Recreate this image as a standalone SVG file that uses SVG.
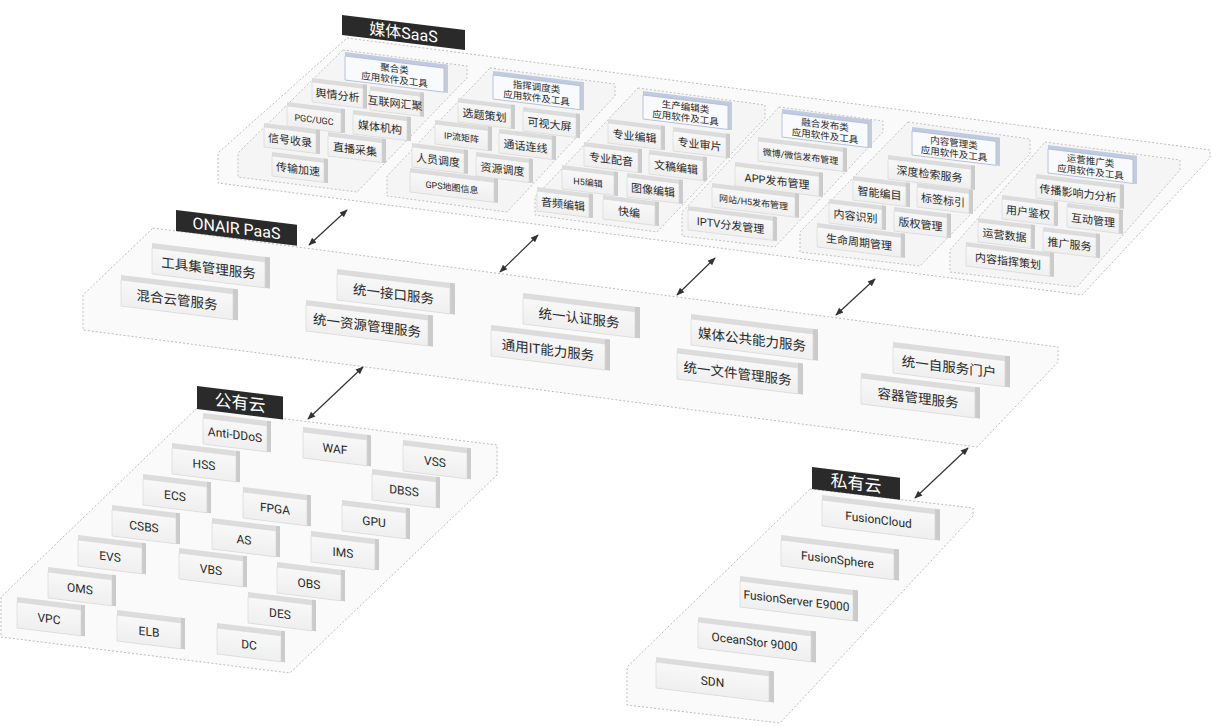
<svg xmlns="http://www.w3.org/2000/svg" width="1212" height="726" viewBox="0 0 1212 726">
<defs>
<linearGradient id="gf" x1="0" y1="0" x2="0" y2="1"><stop offset="0" stop-color="#f8f8f8"/><stop offset="1" stop-color="#efefef"/></linearGradient>
<marker id="ah" viewBox="0 0 10 10" refX="9" refY="5" markerWidth="8" markerHeight="8" markerUnits="userSpaceOnUse" orient="auto-start-reverse"><path d="M0,1 L10,5 L0,9 z" fill="#333"/></marker>
<style>
.pl{fill:#fafafa;stroke:#bdbdbd;stroke-width:1;stroke-dasharray:2 2}
.sp{fill:#f5f5f5;stroke:#c2c2c2;stroke-width:1;stroke-dasharray:2 2}
.bt{fill:#dcdcdc}
.bs{fill:#cbcbcb}
.bf{fill:url(#gf);stroke:#d4d4d4;stroke-width:0.6}
.ht{fill:#c0cae0}
.hs{fill:#c3cbdc}
.hf{fill:#f9fafd;stroke:#b2bed8;stroke-width:0.9}
.t{font-family:Roboto,"Noto Sans CJK SC",sans-serif;fill:#2a2a2a;text-anchor:middle}
.s{font-size:11px}
.xs{font-size:9px}
.m{font-size:13.5px}
.e{font-size:12px}
.h{font-size:9.5px}
.lb{fill:#2a2a2a}
.lt{font-family:Roboto,"Noto Sans CJK SC",sans-serif;fill:#fff;text-anchor:middle}
.cn{stroke:#333;stroke-width:1.2;fill:none;marker-start:url(#ah);marker-end:url(#ah)}
</style>
</defs>

<!-- planes -->
<g id="planes">
<polygon class="pl" points="347,38 1210,150 1210,158 1082,295 218,183 218,153"/>
<polygon class="pl" points="153,228 1058,347 1058,362 977,447 83,330 83,295"/>
<polygon class="pl" points="197,408 497,445 497,475 290,673 1,637 1,597"/>
<polygon class="pl" points="810,489 973,508 973,516 780,723 627,705 627,667"/>
</g>
<g id="subpanels">
<polygon class="sp" points="343,50 467,66 467,78 357,192 238,177 238,153"/>
<polygon class="sp" points="490,68 615,84 615,96 507,212 387,196 387,176"/>
<polygon class="sp" points="638,88 765,105 765,118 657,232 535,215 535,197"/>
<polygon class="sp" points="779,107 883,121 883,132 775,247 682,236 682,212"/>
<polygon class="sp" points="908,122 1030,139 1030,154 920,266 800,252 800,232"/>
<polygon class="sp" points="1045,142 1180,160 1180,170 1077,287 950,272 950,250"/>
</g>

<!-- layer labels -->
<g id="label-saas" transform="translate(342,15) skewY(7)"><rect class="lb" width="123" height="20"/><text class="lt" x="61.5" y="16" font-size="16">媒体SaaS</text></g>
<g id="label-paas" transform="translate(176,210) skewY(7)"><rect class="lb" width="121" height="21"/><text class="lt" x="60.5" y="16.5" font-size="16">ONAIR PaaS</text></g>
<g id="label-public" transform="translate(197,386) skewY(7)"><rect class="lb" width="86" height="23"/><text class="lt" x="43" y="17.5" font-size="17">公有云</text></g>
<g id="label-private" transform="translate(812,467) skewY(7)"><rect class="lb" width="88" height="22"/><text class="lt" x="44" y="17" font-size="17">私有云</text></g>

<!-- SaaS headers -->
<g id="h1" transform="translate(345,52) skewY(7)"><rect class="ht" width="103" height="28"/><rect class="hs" x="99" width="4" height="28"/><rect class="hf" y="4" width="99" height="24"/><text class="t h" x="49.5" y="14">聚合类</text><text class="t h" x="49.5" y="25">应用软件及工具</text></g>
<g id="h2" transform="translate(493,71) skewY(7)"><rect class="ht" width="91" height="28"/><rect class="hs" x="87" width="4" height="28"/><rect class="hf" y="4" width="87" height="24"/><text class="t h" x="43.5" y="14">指挥调度类</text><text class="t h" x="43.5" y="25">应用软件及工具</text></g>
<g id="h3" transform="translate(643,91) skewY(7)"><rect class="ht" width="89" height="28"/><rect class="hs" x="85" width="4" height="28"/><rect class="hf" y="4" width="85" height="24"/><text class="t h" x="42.5" y="14">生产编辑类</text><text class="t h" x="42.5" y="25">应用软件及工具</text></g>
<g id="h4" transform="translate(782,109) skewY(7)"><rect class="ht" width="90" height="28"/><rect class="hs" x="86" width="4" height="28"/><rect class="hf" y="4" width="86" height="24"/><text class="t h" x="43" y="14">融合发布类</text><text class="t h" x="43" y="25">应用软件及工具</text></g>
<g id="h5" transform="translate(912,127) skewY(7)"><rect class="ht" width="88" height="28"/><rect class="hs" x="84" width="4" height="28"/><rect class="hf" y="4" width="84" height="24"/><text class="t h" x="42" y="14">内容管理类</text><text class="t h" x="42" y="25">应用软件及工具</text></g>
<g id="h6" transform="translate(1048,145) skewY(7)"><rect class="ht" width="89" height="28"/><rect class="hs" x="85" width="4" height="28"/><rect class="hf" y="4" width="85" height="24"/><text class="t h" x="42.5" y="14">运营推广类</text><text class="t h" x="42.5" y="25">应用软件及工具</text></g>

<!-- SaaS panel 1 -->
<g id="s-yqfx" transform="translate(312,78) skewY(7)"><rect class="bt" width="55" height="24"/><rect class="bs" x="51" width="4" height="24"/><rect class="bf" y="4" width="51" height="20"/><text class="t s" x="25.5" y="18">舆情分析</text></g>
<g id="s-hlwhj" transform="translate(370,86) skewY(7)"><rect class="bt" width="54" height="24"/><rect class="bs" x="50" width="4" height="24"/><rect class="bf" y="4" width="50" height="20"/><text class="t s" x="25" y="18" font-size="10.5">互联网汇聚</text></g>
<g id="s-pgc" transform="translate(287,102) skewY(7)"><rect class="bt" width="58" height="24"/><rect class="bs" x="54" width="4" height="24"/><rect class="bf" y="4" width="54" height="20"/><text class="t xs" x="27" y="17.5">PGC/UGC</text></g>
<g id="s-mtjg" transform="translate(353,110) skewY(7)"><rect class="bt" width="58" height="24"/><rect class="bs" x="54" width="4" height="24"/><rect class="bf" y="4" width="54" height="20"/><text class="t s" x="27" y="18">媒体机构</text></g>
<g id="s-xhsl" transform="translate(264,123) skewY(7)"><rect class="bt" width="56" height="24"/><rect class="bs" x="52" width="4" height="24"/><rect class="bf" y="4" width="52" height="20"/><text class="t s" x="26" y="18">信号收录</text></g>
<g id="s-zbcj" transform="translate(328,132) skewY(7)"><rect class="bt" width="58" height="24"/><rect class="bs" x="54" width="4" height="24"/><rect class="bf" y="4" width="54" height="20"/><text class="t s" x="27" y="18">直播采集</text></g>
<g id="s-csjs" transform="translate(272,152) skewY(7)"><rect class="bt" width="56" height="24"/><rect class="bs" x="52" width="4" height="24"/><rect class="bf" y="4" width="52" height="20"/><text class="t s" x="26" y="18">传输加速</text></g>

<!-- SaaS panel 2 -->
<g id="s-xtch" transform="translate(458,98) skewY(7)"><rect class="bt" width="57" height="24"/><rect class="bs" x="53" width="4" height="24"/><rect class="bf" y="4" width="53" height="20"/><text class="t s" x="26.5" y="18">选题策划</text></g>
<g id="s-ksdp" transform="translate(523,107) skewY(7)"><rect class="bt" width="57" height="24"/><rect class="bs" x="53" width="4" height="24"/><rect class="bf" y="4" width="53" height="20"/><text class="t s" x="26.5" y="18">可视大屏</text></g>
<g id="s-iplj" transform="translate(435,120) skewY(7)"><rect class="bt" width="57" height="24"/><rect class="bs" x="53" width="4" height="24"/><rect class="bf" y="4" width="53" height="20"/><text class="t xs" x="26.5" y="17.5">IP流矩阵</text></g>
<g id="s-thlx" transform="translate(499,129) skewY(7)"><rect class="bt" width="57" height="24"/><rect class="bs" x="53" width="4" height="24"/><rect class="bf" y="4" width="53" height="20"/><text class="t s" x="26.5" y="18">通话连线</text></g>
<g id="s-rydd" transform="translate(412,143) skewY(7)"><rect class="bt" width="56" height="24"/><rect class="bs" x="52" width="4" height="24"/><rect class="bf" y="4" width="52" height="20"/><text class="t s" x="26" y="18">人员调度</text></g>
<g id="s-zydd" transform="translate(476,152) skewY(7)"><rect class="bt" width="57" height="24"/><rect class="bs" x="53" width="4" height="24"/><rect class="bf" y="4" width="53" height="20"/><text class="t s" x="26.5" y="18">资源调度</text></g>
<g id="s-gps" transform="translate(410,168) skewY(7)"><rect class="bt" width="88" height="24"/><rect class="bs" x="84" width="4" height="24"/><rect class="bf" y="4" width="84" height="20"/><text class="t xs" x="42" y="17.5">GPS地图信息</text></g>

<!-- SaaS panel 3 -->
<g id="s-zybj" transform="translate(608,119) skewY(7)"><rect class="bt" width="57" height="24"/><rect class="bs" x="53" width="4" height="24"/><rect class="bf" y="4" width="53" height="20"/><text class="t s" x="26.5" y="18">专业编辑</text></g>
<g id="s-zysp" transform="translate(673,127) skewY(7)"><rect class="bt" width="57" height="24"/><rect class="bs" x="53" width="4" height="24"/><rect class="bf" y="4" width="53" height="20"/><text class="t s" x="26.5" y="18">专业审片</text></g>
<g id="s-zypy" transform="translate(584,142) skewY(7)"><rect class="bt" width="58" height="24"/><rect class="bs" x="54" width="4" height="24"/><rect class="bf" y="4" width="54" height="20"/><text class="t s" x="27" y="18">专业配音</text></g>
<g id="s-wgbj" transform="translate(649,150) skewY(7)"><rect class="bt" width="58" height="24"/><rect class="bs" x="54" width="4" height="24"/><rect class="bf" y="4" width="54" height="20"/><text class="t s" x="27" y="18">文稿编辑</text></g>
<g id="s-h5bj" transform="translate(562,165) skewY(7)"><rect class="bt" width="56" height="24"/><rect class="bs" x="52" width="4" height="24"/><rect class="bf" y="4" width="52" height="20"/><text class="t xs" x="26" y="17.5">H5编辑</text></g>
<g id="s-txbj" transform="translate(627,173) skewY(7)"><rect class="bt" width="56" height="24"/><rect class="bs" x="52" width="4" height="24"/><rect class="bf" y="4" width="52" height="20"/><text class="t s" x="26" y="18">图像编辑</text></g>
<g id="s-ypbj" transform="translate(537,187) skewY(7)"><rect class="bt" width="56" height="24"/><rect class="bs" x="52" width="4" height="24"/><rect class="bf" y="4" width="52" height="20"/><text class="t s" x="26" y="18">音频编辑</text></g>
<g id="s-kb" transform="translate(603,195) skewY(7)"><rect class="bt" width="56" height="24"/><rect class="bs" x="52" width="4" height="24"/><rect class="bf" y="4" width="52" height="20"/><text class="t s" x="26" y="18">快编</text></g>

<!-- SaaS panel 4 -->
<g id="s-wb" transform="translate(758,137) skewY(7)"><rect class="bt" width="89" height="24"/><rect class="bs" x="85" width="4" height="24"/><rect class="bf" y="4" width="85" height="20"/><text class="t xs" x="42.5" y="17.5">微博/微信发布管理</text></g>
<g id="s-app" transform="translate(735,162) skewY(7)"><rect class="bt" width="88" height="24"/><rect class="bs" x="84" width="4" height="24"/><rect class="bf" y="4" width="84" height="20"/><text class="t s" x="42" y="18">APP发布管理</text></g>
<g id="s-wz" transform="translate(712,183) skewY(7)"><rect class="bt" width="87" height="24"/><rect class="bs" x="83" width="4" height="24"/><rect class="bf" y="4" width="83" height="20"/><text class="t xs" x="41.5" y="17.5">网站/H5发布管理</text></g>
<g id="s-iptv" transform="translate(688,206) skewY(7)"><rect class="bt" width="89" height="24"/><rect class="bs" x="85" width="4" height="24"/><rect class="bf" y="4" width="85" height="20"/><text class="t s" x="42.5" y="18">IPTV分发管理</text></g>

<!-- SaaS panel 5 -->
<g id="s-sdjs" transform="translate(888,155) skewY(7)"><rect class="bt" width="87" height="24"/><rect class="bs" x="83" width="4" height="24"/><rect class="bf" y="4" width="83" height="20"/><text class="t s" x="41.5" y="18">深度检索服务</text></g>
<g id="s-znbm" transform="translate(853,176) skewY(7)"><rect class="bt" width="57" height="24"/><rect class="bs" x="53" width="4" height="24"/><rect class="bf" y="4" width="53" height="20"/><text class="t s" x="26.5" y="18">智能编目</text></g>
<g id="s-bqby" transform="translate(917,183) skewY(7)"><rect class="bt" width="56" height="24"/><rect class="bs" x="52" width="4" height="24"/><rect class="bf" y="4" width="52" height="20"/><text class="t s" x="26" y="18">标签标引</text></g>
<g id="s-nrsb" transform="translate(829,199) skewY(7)"><rect class="bt" width="57" height="24"/><rect class="bs" x="53" width="4" height="24"/><rect class="bf" y="4" width="53" height="20"/><text class="t s" x="26.5" y="18">内容识别</text></g>
<g id="s-bqgl" transform="translate(894,207) skewY(7)"><rect class="bt" width="57" height="24"/><rect class="bs" x="53" width="4" height="24"/><rect class="bf" y="4" width="53" height="20"/><text class="t s" x="26.5" y="18">版权管理</text></g>
<g id="s-smzq" transform="translate(817,223) skewY(7)"><rect class="bt" width="88" height="24"/><rect class="bs" x="84" width="4" height="24"/><rect class="bf" y="4" width="84" height="20"/><text class="t s" x="42" y="18">生命周期管理</text></g>

<!-- SaaS panel 6 -->
<g id="s-cbyx" transform="translate(1036,174) skewY(7)"><rect class="bt" width="88" height="24"/><rect class="bs" x="84" width="4" height="24"/><rect class="bf" y="4" width="84" height="20"/><text class="t s" x="42" y="18">传播影响力分析</text></g>
<g id="s-yhjq" transform="translate(1002,195) skewY(7)"><rect class="bt" width="56" height="24"/><rect class="bs" x="52" width="4" height="24"/><rect class="bf" y="4" width="52" height="20"/><text class="t s" x="26" y="18">用户鉴权</text></g>
<g id="s-hdgl" transform="translate(1067,203) skewY(7)"><rect class="bt" width="56" height="24"/><rect class="bs" x="52" width="4" height="24"/><rect class="bf" y="4" width="52" height="20"/><text class="t s" x="26" y="18">互动管理</text></g>
<g id="s-yysj" transform="translate(978,218) skewY(7)"><rect class="bt" width="57" height="24"/><rect class="bs" x="53" width="4" height="24"/><rect class="bf" y="4" width="53" height="20"/><text class="t s" x="26.5" y="18">运营数据</text></g>
<g id="s-tgfw" transform="translate(1043,227) skewY(7)"><rect class="bt" width="57" height="24"/><rect class="bs" x="53" width="4" height="24"/><rect class="bf" y="4" width="53" height="20"/><text class="t s" x="26.5" y="18">推广服务</text></g>
<g id="s-nrzh" transform="translate(966,242) skewY(7)"><rect class="bt" width="88" height="24"/><rect class="bs" x="84" width="4" height="24"/><rect class="bf" y="4" width="84" height="20"/><text class="t s" x="42" y="18">内容指挥策划</text></g>

<!-- PaaS -->
<g id="p-gjj" transform="translate(152,243) skewY(7)"><rect class="bt" width="118" height="31"/><rect class="bs" x="113" width="5" height="31"/><rect class="bf" y="5" width="113" height="26"/><text class="t m" x="56.5" y="23">工具集管理服务</text></g>
<g id="p-jk" transform="translate(337,269) skewY(7)"><rect class="bt" width="118" height="31"/><rect class="bs" x="113" width="5" height="31"/><rect class="bf" y="5" width="113" height="26"/><text class="t m" x="56.5" y="23">统一接口服务</text></g>
<g id="p-hhy" transform="translate(121,275) skewY(7)"><rect class="bt" width="117" height="31"/><rect class="bs" x="112" width="5" height="31"/><rect class="bf" y="5" width="112" height="26"/><text class="t m" x="56" y="23">混合云管服务</text></g>
<g id="p-rz" transform="translate(523,293) skewY(7)"><rect class="bt" width="117" height="31"/><rect class="bs" x="112" width="5" height="31"/><rect class="bf" y="5" width="112" height="26"/><text class="t m" x="56" y="23">统一认证服务</text></g>
<g id="p-zy" transform="translate(306,300) skewY(7)"><rect class="bt" width="127" height="31"/><rect class="bs" x="122" width="5" height="31"/><rect class="bf" y="5" width="122" height="26"/><text class="t m" x="61" y="23">统一资源管理服务</text></g>
<g id="p-mt" transform="translate(691,314) skewY(7)"><rect class="bt" width="127" height="31"/><rect class="bs" x="122" width="5" height="31"/><rect class="bf" y="5" width="122" height="26"/><text class="t m" x="61" y="23">媒体公共能力服务</text></g>
<g id="p-it" transform="translate(491,325) skewY(7)"><rect class="bt" width="119" height="31"/><rect class="bs" x="114" width="5" height="31"/><rect class="bf" y="5" width="114" height="26"/><text class="t m" x="57" y="23">通用IT能力服务</text></g>
<g id="p-zfw" transform="translate(893,342) skewY(7)"><rect class="bt" width="117" height="31"/><rect class="bs" x="112" width="5" height="31"/><rect class="bf" y="5" width="112" height="26"/><text class="t m" x="56" y="23">统一自服务门户</text></g>
<g id="p-wj" transform="translate(677,348) skewY(7)"><rect class="bt" width="126" height="31"/><rect class="bs" x="121" width="5" height="31"/><rect class="bf" y="5" width="121" height="26"/><text class="t m" x="60.5" y="23">统一文件管理服务</text></g>
<g id="p-rq" transform="translate(861,373) skewY(7)"><rect class="bt" width="119" height="31"/><rect class="bs" x="114" width="5" height="31"/><rect class="bf" y="5" width="114" height="26"/><text class="t m" x="57" y="23">容器管理服务</text></g>

<!-- Public cloud -->
<g id="c-antiddos" transform="translate(203,413) skewY(7)"><rect class="bt" width="68" height="31"/><rect class="bs" x="64" width="4" height="31"/><rect class="bf" y="5" width="64" height="26"/><text class="t e" x="32" y="22">Anti-DDoS</text></g>
<g id="c-waf" transform="translate(303,427) skewY(7)"><rect class="bt" width="68" height="31"/><rect class="bs" x="64" width="4" height="31"/><rect class="bf" y="5" width="64" height="26"/><text class="t e" x="32" y="22">WAF</text></g>
<g id="c-vss" transform="translate(403,440) skewY(7)"><rect class="bt" width="68" height="31"/><rect class="bs" x="64" width="4" height="31"/><rect class="bf" y="5" width="64" height="26"/><text class="t e" x="32" y="22">VSS</text></g>
<g id="c-hss" transform="translate(172,443) skewY(7)"><rect class="bt" width="68" height="31"/><rect class="bs" x="64" width="4" height="31"/><rect class="bf" y="5" width="64" height="26"/><text class="t e" x="32" y="22">HSS</text></g>
<g id="c-dbss" transform="translate(372,469) skewY(7)"><rect class="bt" width="68" height="31"/><rect class="bs" x="64" width="4" height="31"/><rect class="bf" y="5" width="64" height="26"/><text class="t e" x="32" y="22">DBSS</text></g>
<g id="c-ecs" transform="translate(143,474) skewY(7)"><rect class="bt" width="68" height="31"/><rect class="bs" x="64" width="4" height="31"/><rect class="bf" y="5" width="64" height="26"/><text class="t e" x="32" y="22">ECS</text></g>
<g id="c-fpga" transform="translate(243,487) skewY(7)"><rect class="bt" width="68" height="31"/><rect class="bs" x="64" width="4" height="31"/><rect class="bf" y="5" width="64" height="26"/><text class="t e" x="32" y="22">FPGA</text></g>
<g id="c-gpu" transform="translate(342,500) skewY(7)"><rect class="bt" width="68" height="31"/><rect class="bs" x="64" width="4" height="31"/><rect class="bf" y="5" width="64" height="26"/><text class="t e" x="32" y="22">GPU</text></g>
<g id="c-csbs" transform="translate(112,505) skewY(7)"><rect class="bt" width="68" height="31"/><rect class="bs" x="64" width="4" height="31"/><rect class="bf" y="5" width="64" height="26"/><text class="t e" x="32" y="22">CSBS</text></g>
<g id="c-as" transform="translate(212,518) skewY(7)"><rect class="bt" width="68" height="31"/><rect class="bs" x="64" width="4" height="31"/><rect class="bf" y="5" width="64" height="26"/><text class="t e" x="32" y="22">AS</text></g>
<g id="c-ims" transform="translate(311,531) skewY(7)"><rect class="bt" width="68" height="31"/><rect class="bs" x="64" width="4" height="31"/><rect class="bf" y="5" width="64" height="26"/><text class="t e" x="32" y="22">IMS</text></g>
<g id="c-evs" transform="translate(78,535) skewY(7)"><rect class="bt" width="68" height="31"/><rect class="bs" x="64" width="4" height="31"/><rect class="bf" y="5" width="64" height="26"/><text class="t e" x="32" y="22">EVS</text></g>
<g id="c-vbs" transform="translate(179,548) skewY(7)"><rect class="bt" width="68" height="31"/><rect class="bs" x="64" width="4" height="31"/><rect class="bf" y="5" width="64" height="26"/><text class="t e" x="32" y="22">VBS</text></g>
<g id="c-obs" transform="translate(277,562) skewY(7)"><rect class="bt" width="68" height="31"/><rect class="bs" x="64" width="4" height="31"/><rect class="bf" y="5" width="64" height="26"/><text class="t e" x="32" y="22">OBS</text></g>
<g id="c-oms" transform="translate(48,567) skewY(7)"><rect class="bt" width="68" height="31"/><rect class="bs" x="64" width="4" height="31"/><rect class="bf" y="5" width="64" height="26"/><text class="t e" x="32" y="22">OMS</text></g>
<g id="c-des" transform="translate(248,592) skewY(7)"><rect class="bt" width="68" height="31"/><rect class="bs" x="64" width="4" height="31"/><rect class="bf" y="5" width="64" height="26"/><text class="t e" x="32" y="22">DES</text></g>
<g id="c-vpc" transform="translate(17,597) skewY(7)"><rect class="bt" width="68" height="31"/><rect class="bs" x="64" width="4" height="31"/><rect class="bf" y="5" width="64" height="26"/><text class="t e" x="32" y="22">VPC</text></g>
<g id="c-elb" transform="translate(117,610) skewY(7)"><rect class="bt" width="68" height="31"/><rect class="bs" x="64" width="4" height="31"/><rect class="bf" y="5" width="64" height="26"/><text class="t e" x="32" y="22">ELB</text></g>
<g id="c-dc" transform="translate(217,623) skewY(7)"><rect class="bt" width="68" height="31"/><rect class="bs" x="64" width="4" height="31"/><rect class="bf" y="5" width="64" height="26"/><text class="t e" x="32" y="22">DC</text></g>

<!-- Private cloud -->
<g id="v-fc" transform="translate(822,495) skewY(7)"><rect class="bt" width="118" height="31"/><rect class="bs" x="113" width="5" height="31"/><rect class="bf" y="5" width="113" height="26"/><text class="t e" x="56.5" y="22">FusionCloud</text></g>
<g id="v-fs" transform="translate(781,535) skewY(7)"><rect class="bt" width="118" height="31"/><rect class="bs" x="113" width="5" height="31"/><rect class="bf" y="5" width="113" height="26"/><text class="t e" x="56.5" y="22">FusionSphere</text></g>
<g id="v-fse" transform="translate(740,576) skewY(7)"><rect class="bt" width="118" height="31"/><rect class="bs" x="113" width="5" height="31"/><rect class="bf" y="5" width="113" height="26"/><text class="t e" x="56.5" y="22">FusionServer E9000</text></g>
<g id="v-os" transform="translate(698,617) skewY(7)"><rect class="bt" width="118" height="31"/><rect class="bs" x="113" width="5" height="31"/><rect class="bf" y="5" width="113" height="26"/><text class="t e" x="56.5" y="22">OceanStor 9000</text></g>
<g id="v-sdn" transform="translate(656,657) skewY(7)"><rect class="bt" width="118" height="31"/><rect class="bs" x="113" width="5" height="31"/><rect class="bf" y="5" width="113" height="26"/><text class="t e" x="56.5" y="22">SDN</text></g>

<!-- connectors -->
<g id="connectors">
<line class="cn" x1="309" y1="245" x2="347" y2="210"/>
<line class="cn" x1="500" y1="272" x2="538" y2="235"/>
<line class="cn" x1="677" y1="295" x2="715" y2="258"/>
<line class="cn" x1="836" y1="315" x2="875" y2="279"/>
<line class="cn" x1="308" y1="419" x2="363" y2="367"/>
<line class="cn" x1="915" y1="498" x2="968" y2="448"/>
</g>
</svg>
